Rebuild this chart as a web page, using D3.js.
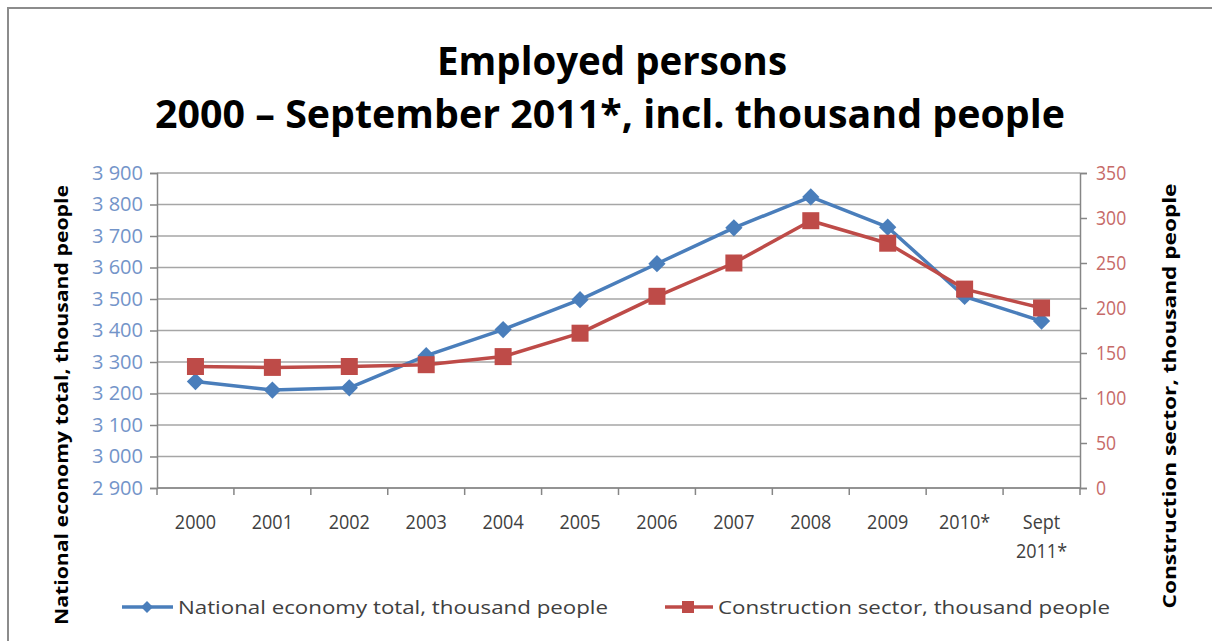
<!DOCTYPE html>
<html>
<head>
<meta charset="utf-8">
<script src="https://cdn.jsdelivr.net/npm/d3@7/dist/d3.min.js"></script>
<style>
  html, body { margin: 0; padding: 0; background: #fff; }
  svg { display: block; }
  text { font-family: "Open Sans", "DejaVu Sans", sans-serif; }
</style>
</head>
<body>
<svg id="chart" width="1212" height="641"></svg>
<script>
// Category labels (a label may span two lines)
const categories = ["2000", "2001", "2002", "2003", "2004", "2005", "2006", "2007", "2008", "2009", "2010*", "Sept\n2011*"];

// Employed persons, thousand people
const nationalTotal = [3238, 3211, 3218, 3320, 3403, 3498, 3612, 3726, 3824, 3728, 3508, 3430];
const construction = [135, 134, 135, 137, 146, 172, 213, 250, 297, 272, 221, 200];

// Axis ticks
const leftTicks = [2900, 3000, 3100, 3200, 3300, 3400, 3500, 3600, 3700, 3800, 3900];
const rightTicks = [0, 50, 100, 150, 200, 250, 300, 350];

const titleLines = ["Employed persons", "2000 \u2013 September 2011*, incl. thousand people"];
const leftTitle = "National economy total, thousand people";
const rightTitle = "Construction sector, thousand people";
const seriesNames = ["National economy total, thousand people", "Construction sector, thousand people"];

const blue = "#4a7ebb";
const red = "#be4b48";

const svg = d3.select("#chart");
const plot = { left: 157, right: 1080, top: 173, bottom: 488 };

// Chart frame
svg.append("rect").attr("x", 8).attr("y", 8).attr("width", 1220).attr("height", 640)
  .attr("fill", "#fff").attr("stroke", "#8c8c8c").attr("stroke-width", 2);

// Scales
const x = d3.scaleBand().domain(categories).range([plot.left, plot.right]).padding(0);
const cx = c => x(c) + x.bandwidth() / 2;
const yL = d3.scaleLinear().domain([2900, 3900]).range([plot.bottom, plot.top]);
const yR = d3.scaleLinear().domain([0, 350]).range([plot.bottom, plot.top]);

// Fit a text element to a given width
function fit(sel, w) {
  sel.attr("textLength", w).attr("lengthAdjust", "spacingAndGlyphs");
  return sel;
}
// Narrow text elements by a factor of their natural width
function condense(sel, k) {
  sel.each(function () {
    const w = this.getComputedTextLength();
    d3.select(this).attr("textLength", w * k).attr("lengthAdjust", "spacingAndGlyphs");
  });
  return sel;
}

// Title
svg.append("text").text(titleLines[0])
  .attr("x", 612).attr("y", 75).attr("text-anchor", "middle")
  .attr("font-size", 39).attr("font-weight", "bold").attr("fill", "#000")
  .call(fit, 350);
svg.append("text").text(titleLines[1])
  .attr("x", 610).attr("y", 128).attr("text-anchor", "middle")
  .attr("font-size", 39).attr("font-weight", "bold").attr("fill", "#000")
  .call(fit, 910);

// Horizontal gridlines
svg.append("g").selectAll("line").data(leftTicks).join("line")
  .attr("x1", plot.left).attr("x2", plot.right)
  .attr("y1", d => yL(d)).attr("y2", d => yL(d))
  .attr("stroke", "#a6a6a6").attr("stroke-width", 1.5);

// Left axis
const fmt = d => d3.format(",")(d).replace(",", " ");
const gL = svg.append("g").attr("transform", `translate(${plot.left},0)`)
  .call(d3.axisLeft(yL).tickValues(leftTicks).tickFormat(fmt).tickSize(7).tickPadding(7));
gL.select(".domain").attr("stroke", "#868686").attr("stroke-width", 1.5);
gL.selectAll(".tick line").attr("stroke", "#868686").attr("stroke-width", 1.5);
gL.selectAll(".tick text").attr("fill", "#7394c9").attr("font-size", 20)
  .attr("font-family", "'Open Sans', sans-serif").call(fit, 51);

// Right axis
const gR = svg.append("g").attr("transform", `translate(${plot.right},0)`)
  .call(d3.axisRight(yR).tickValues(rightTicks).tickSize(7).tickPadding(9));
gR.select(".domain").attr("stroke", "#868686").attr("stroke-width", 1.5);
gR.selectAll(".tick line").attr("stroke", "#868686").attr("stroke-width", 1.5);
gR.selectAll(".tick text").attr("fill", "#c66a68").attr("font-size", 20)
  .attr("font-family", "'Open Sans', sans-serif").call(condense, 0.88);

// Bottom axis line with boundary ticks
svg.append("line").attr("x1", plot.left).attr("x2", plot.right)
  .attr("y1", plot.bottom).attr("y2", plot.bottom)
  .attr("stroke", "#868686").attr("stroke-width", 1.5);
svg.append("g").selectAll("line").data(categories.concat([null])).join("line")
  .attr("x1", d => d === null ? plot.right : x(d))
  .attr("x2", d => d === null ? plot.right : x(d))
  .attr("y1", plot.bottom).attr("y2", plot.bottom + 7)
  .attr("stroke", "#868686").attr("stroke-width", 1.5);

// Category labels
const xl = svg.append("g").selectAll("text").data(categories).join("text")
  .attr("x", d => cx(d)).attr("y", 529).attr("text-anchor", "middle")
  .attr("font-size", 20).attr("fill", "#404040");
xl.each(function (d) {
  const parts = d.split("\n");
  const t = d3.select(this);
  parts.forEach((p, i) => {
    t.append("tspan").attr("x", cx(d)).attr("dy", i === 0 ? 0 : 29).text(p);
  });
});
xl.selectAll("tspan").call(condense, 0.9);

// Axis titles
svg.append("text").text(leftTitle)
  .attr("transform", "translate(68,405) rotate(-90)").attr("text-anchor", "middle")
  .attr("font-size", 18).attr("font-weight", "bold").attr("fill", "#000")
  .call(fit, 440);
svg.append("text").text(rightTitle)
  .attr("transform", "translate(1176,396) rotate(-90)").attr("text-anchor", "middle")
  .attr("font-size", 18).attr("font-weight", "bold").attr("fill", "#000")
  .call(fit, 425);

// Lines and markers
const lineL = d3.line().x((d, i) => cx(categories[i])).y(d => yL(d));
const lineR = d3.line().x((d, i) => cx(categories[i])).y(d => yR(d));

svg.append("path").datum(nationalTotal).attr("d", lineL)
  .attr("fill", "none").attr("stroke", blue).attr("stroke-width", 3.5).attr("stroke-linejoin", "round");
const diamond = d3.symbol().type(d3.symbolDiamond2).size(190);
svg.append("g").selectAll("path").data(nationalTotal).join("path")
  .attr("d", diamond)
  .attr("transform", (d, i) => `translate(${cx(categories[i])},${yL(d)})`)
  .attr("fill", blue);

svg.append("path").datum(construction).attr("d", lineR)
  .attr("fill", "none").attr("stroke", red).attr("stroke-width", 3.5).attr("stroke-linejoin", "round");
svg.append("g").selectAll("rect").data(construction).join("rect")
  .attr("x", (d, i) => cx(categories[i]) - 8.5).attr("y", d => yR(d) - 8.5)
  .attr("width", 17).attr("height", 17).attr("fill", red);

// Legend
const legend = svg.append("g");
legend.append("line").attr("x1", 122).attr("x2", 173).attr("y1", 607).attr("y2", 607)
  .attr("stroke", blue).attr("stroke-width", 3.5);
legend.append("path").attr("d", d3.symbol().type(d3.symbolDiamond2).size(90))
  .attr("transform", "translate(147,607)").attr("fill", blue);
legend.append("text").text(seriesNames[0]).attr("x", 178).attr("y", 614)
  .attr("font-size", 19).attr("fill", "#404040").call(fit, 430);

legend.append("line").attr("x1", 665).attr("x2", 713).attr("y1", 607).attr("y2", 607)
  .attr("stroke", red).attr("stroke-width", 3.5);
legend.append("rect").attr("x", 682).attr("y", 601).attr("width", 12).attr("height", 12)
  .attr("fill", red);
legend.append("text").text(seriesNames[1]).attr("x", 718).attr("y", 614)
  .attr("font-size", 19).attr("fill", "#404040").call(fit, 392);
</script>
</body>
</html>
